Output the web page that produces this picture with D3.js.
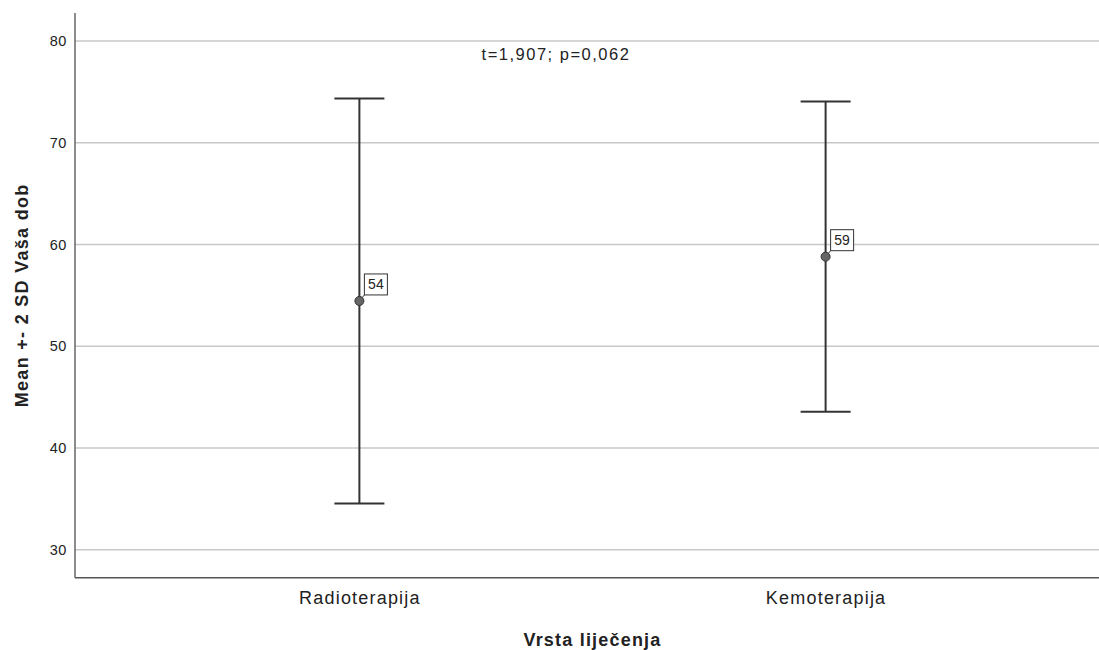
<!DOCTYPE html>
<html>
<head>
<meta charset="utf-8">
<script src="https://cdn.jsdelivr.net/npm/d3@7"></script>
<style>
  body { margin: 0; background: #fff; overflow: hidden; }
  text { font-family: "Liberation Sans", Arial, sans-serif; fill: #222; }
</style>
</head>
<body>
<div id="chart-area"></div>
<script>
// data
const groups = ["Radioterapija", "Kemoterapija"]
const means = [54.45, 58.8]
const upper = [74.35, 74.05]      // mean + 2 SD
const lower = [34.55, 43.55]      // mean - 2 SD
const meanLabels = ["54", "59"]
const yTicks = [30, 40, 50, 60, 70, 80]
const statText = "t=1,907; p=0,062"

const W = 1099
const H = 650
const LEFT = 75
const RIGHT = 1110   // plot runs past the picture edge
const TOP = 13
const BOTTOM = 577.7

const svg = d3.select("#chart-area").append("svg")
  .attr("width", W)
  .attr("height", H)
  .style("display", "block")

// Scales
const x = d3.scalePoint()
  .domain(groups)
  .range([LEFT, RIGHT])
  .padding(0.61)
const y = d3.scaleLinear()
  .domain([27.25, 82.75])
  .range([BOTTOM, TOP])

// Gridlines
svg.append("g")
  .selectAll("line")
  .data(yTicks)
  .enter().append("line")
    .attr("x1", LEFT)
    .attr("x2", RIGHT)
    .attr("y1", d => y(d))
    .attr("y2", d => y(d))
    .attr("stroke", "#c8c8c8")
    .attr("stroke-width", 1.5)

// Y Axis
const yAxisCall = d3.axisLeft(y)
  .tickValues(yTicks)
  .tickSize(0)
  .tickPadding(8)
const yAxis = svg.append("g")
  .attr("transform", `translate(${LEFT}, 0)`)
  .call(yAxisCall)
yAxis.select(".domain").remove()
yAxis.selectAll("text")
  .attr("font-size", "14.5px")
  .style("letter-spacing", "0.6px")
  .attr("fill", "#222")

// X Axis
const xAxisCall = d3.axisBottom(x).tickSize(0).tickPadding(14)
const xAxis = svg.append("g")
  .attr("transform", `translate(0, ${BOTTOM})`)
  .call(xAxisCall)
xAxis.select(".domain").remove()
xAxis.selectAll("text")
  .attr("font-size", "18px")
  .style("letter-spacing", "1.2px")
  .attr("fill", "#222")

// axis lines
svg.append("line")
  .attr("x1", LEFT).attr("x2", LEFT)
  .attr("y1", TOP).attr("y2", BOTTOM)
  .attr("stroke", "#666").attr("stroke-width", 1.5)
svg.append("line")
  .attr("x1", LEFT).attr("x2", RIGHT)
  .attr("y1", BOTTOM).attr("y2", BOTTOM)
  .attr("stroke", "#555").attr("stroke-width", 1.5)

// Labels
svg.append("text")
  .attr("x", x.range()[0] + (x.range()[1] - x.range()[0]) / 2)
  .attr("y", 646)
  .attr("text-anchor", "middle")
  .attr("font-size", "18px")
  .attr("font-weight", "bold")
  .style("letter-spacing", "1.2px")
  .attr("fill", "#111")
  .text("Vrsta liječenja")
svg.append("text")
  .attr("transform", `translate(28, ${(TOP + BOTTOM) / 2}) rotate(-90)`)
  .attr("text-anchor", "middle")
  .attr("font-size", "18px")
  .attr("font-weight", "bold")
  .style("letter-spacing", "1.3px")
  .attr("fill", "#111")
  .text("Mean +- 2 SD Vaša dob")

svg.append("text")
  .attr("x", 556)
  .attr("y", 60)
  .attr("text-anchor", "middle")
  .attr("font-size", "16.5px")
  .style("letter-spacing", "1.5px")
  .text(statText)

// Error bars
const bars = svg.append("g")
  .selectAll("g")
  .data(groups)
  .enter().append("g")

const CAP = 25
bars.append("line")
  .attr("x1", d => x(d)).attr("x2", d => x(d))
  .attr("y1", (d, i) => y(upper[i]))
  .attr("y2", (d, i) => y(lower[i]))
  .attr("stroke", "#333").attr("stroke-width", 2)
bars.append("line")
  .attr("x1", d => x(d) - CAP).attr("x2", d => x(d) + CAP)
  .attr("y1", (d, i) => y(upper[i]))
  .attr("y2", (d, i) => y(upper[i]))
  .attr("stroke", "#333").attr("stroke-width", 2)
bars.append("line")
  .attr("x1", d => x(d) - CAP).attr("x2", d => x(d) + CAP)
  .attr("y1", (d, i) => y(lower[i]))
  .attr("y2", (d, i) => y(lower[i]))
  .attr("stroke", "#333").attr("stroke-width", 2)

// mean labels (box + connector)
bars.append("line")
  .attr("x1", d => x(d))
  .attr("y1", (d, i) => y(means[i]))
  .attr("x2", d => x(d) + 5)
  .attr("y2", (d, i) => y(means[i]) - 6)
  .attr("stroke", "#333").attr("stroke-width", 1)
bars.append("rect")
  .attr("x", d => x(d) + 5)
  .attr("y", (d, i) => y(means[i]) - 27)
  .attr("width", 23)
  .attr("height", 21)
  .attr("fill", "#fff")
  .attr("stroke", "#333")
  .attr("stroke-width", 1)
bars.append("text")
  .attr("x", d => x(d) + 16.5)
  .attr("y", (d, i) => y(means[i]) - 11.5)
  .attr("text-anchor", "middle")
  .attr("font-size", "14px")
  .text((d, i) => meanLabels[i])

bars.append("circle")
  .attr("cx", d => x(d))
  .attr("cy", (d, i) => y(means[i]))
  .attr("r", 4.5)
  .attr("fill", "#666")
  .attr("stroke", "#333")
  .attr("stroke-width", 1)
</script>
</body>
</html>
